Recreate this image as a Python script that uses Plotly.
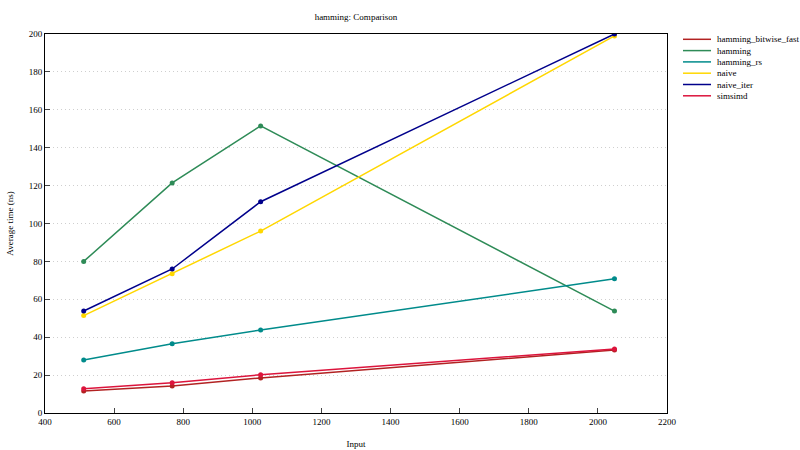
import plotly.graph_objects as go

inputs = [512, 768, 1024, 2048]

names = ["hamming_bitwise_fast", "hamming", "hamming_rs", "naive", "naive_iter", "simsimd"]
hamming_bitwise_fast = [11.6, 14.2, 18.5, 33.2]
hamming = [80.0, 121.4, 151.5, 53.8]
hamming_rs = [28.0, 36.5, 43.8, 70.8]
naive = [51.4, 73.5, 96.0, 199.0]
naive_iter = [53.8, 76.0, 111.5, 200.0]
simsimd = [12.8, 15.9, 20.2, 33.8]

colors = ["#b22222", "#2e8b57", "#008b8b", "#ffd700", "#00008b", "#dc143c"]
series = [hamming_bitwise_fast, hamming, hamming_rs, naive, naive_iter, simsimd]

font = "Liberation Serif, Times New Roman, serif"

# plot box in pixels
L, R, T, B = 45, 667, 34, 413
W, H = R - L, B - T

fig = go.Figure()
for name, vals, col in zip(names, series, colors):
    fig.add_trace(go.Scatter(x=inputs, y=vals, name=name, mode="lines+markers",
                             line=dict(color=col, width=1.5),
                             marker=dict(color=col, size=5), showlegend=False))

# gnuplot-style compact legend
for i, (name, col) in enumerate(zip(names, colors)):
    py = 39.3 + i * 11.3
    yp = (B - py) / H
    fig.add_shape(type="line", xref="paper", yref="paper",
                  x0=(683 - L) / W, x1=(711 - L) / W, y0=yp, y1=yp,
                  line=dict(color=col, width=1.5))
    fig.add_annotation(text=name, xref="paper", yref="paper",
                       x=(715 - L) / W, y=yp, xanchor="left", yanchor="middle",
                       showarrow=False, font=dict(size=9))

fig.update_layout(
    width=800, height=450,
    margin=dict(l=L, r=800 - R, t=T, b=450 - B, autoexpand=False),
    paper_bgcolor="white", plot_bgcolor="white",
    font=dict(family=font, size=9, color="black"),
    title=dict(text="hamming: Comparison", x=(L + R) / 2 / 800, xanchor="center",
               y=1 - 17 / 450, yanchor="middle", font=dict(size=9)),
    showlegend=False,
)
fig.update_xaxes(range=[400, 2200], dtick=200, tick0=400, showgrid=False,
                 showline=True, linecolor="black", linewidth=1, mirror=True,
                 ticks="inside", ticklen=5, zeroline=False, automargin=False,
                 title=dict(text="Input", standoff=14, font=dict(size=9)))
fig.update_yaxes(range=[0, 200], dtick=20, showgrid=True, gridcolor="#cfcfcf",
                 griddash="1px,3px", gridwidth=1,
                 showline=True, linecolor="black", linewidth=1, mirror=True,
                 ticks="inside", ticklen=5, zeroline=False, automargin=False,
                 title=dict(text="Average time (ns)", standoff=13, font=dict(size=9)))

fig.write_html("out.html", config={"displayModeBar": False},
               post_script="document.body.style.margin='0';")
